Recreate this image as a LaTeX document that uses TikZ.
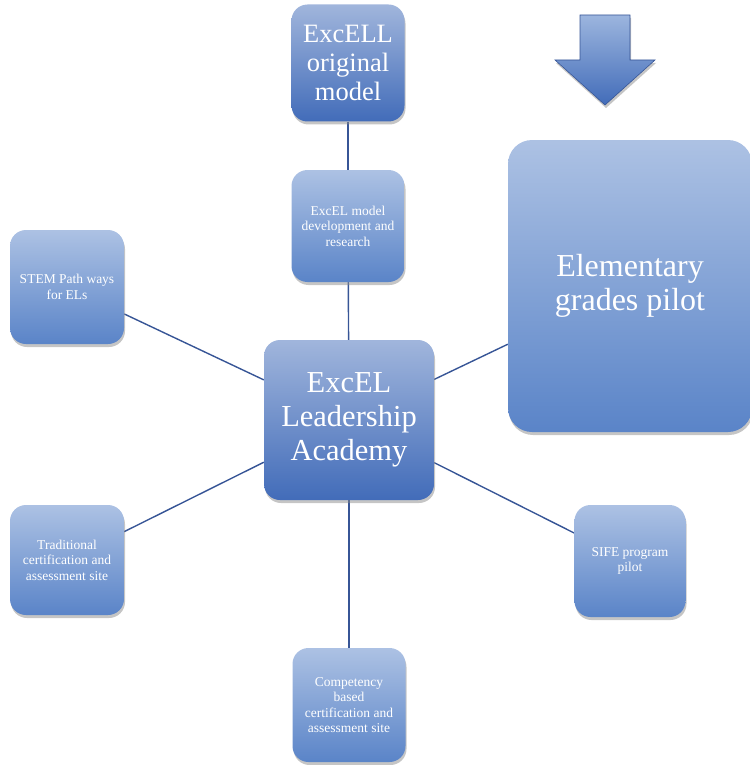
\documentclass[tikz,border=0pt]{standalone}
\usepackage{fontspec}
\setmainfont{Liberation Serif}
\usetikzlibrary{shadows,backgrounds}
\definecolor{linec}{RGB}{55,85,150}
\definecolor{boxblue}{RGB}{66,108,185}
\definecolor{lightblue}{RGB}{90,132,200}
\tikzset{
  box/.style={rounded corners=16pt, draw=none, text=white, align=center, inner sep=0pt,
    top color=#1!50!white, bottom color=#1, drop shadow={shadow xshift=1pt, shadow yshift=-3pt, fill=black!45, opacity=0.5}},
  box/.default={boxblue},
  conn/.style={draw=linec, line width=1.4pt},
}
\begin{document}
\begin{tikzpicture}[x=1pt,y=-1pt]
\useasboundingbox (0,0) rectangle (749,765);
\node[box, minimum width=113pt, minimum height=117pt, font=\fontsize{26.5}{29}\selectfont] (orig) at (348,63) {ExcELL\\original\\model};
\node[box=lightblue, minimum width=113pt, minimum height=112pt, font=\fontsize{13.5}{15.5}\selectfont] (dev) at (348,226) {ExcEL model\\development and\\research};
\node[box=lightblue, minimum width=114pt, minimum height=114pt, font=\fontsize{13.5}{15.5}\selectfont] (stem) at (67,287) {STEM Path ways\\for ELs};
\node[box, minimum width=170pt, minimum height=160pt, font=\fontsize{30.5}{34}\selectfont] (acad) at (349,420) {ExcEL\\Leadership\\Academy};
\node[box=lightblue, minimum width=244pt, minimum height=292pt, rounded corners=24pt, font=\fontsize{32}{34}\selectfont] (elem) at (630,286) {Elementary\\grades pilot};
\node[box=lightblue, minimum width=114pt, minimum height=110pt, font=\fontsize{13.5}{15.5}\selectfont] (trad) at (67,560) {Traditional\\certification and\\assessment site};
\node[box=lightblue, minimum width=113pt, minimum height=114pt, font=\fontsize{13.5}{15.5}\selectfont] (comp) at (349,705) {Competency\\based\\certification and\\assessment site};
\node[box=lightblue, minimum width=111pt, minimum height=112pt, font=\fontsize{13.5}{15.5}\selectfont] (sife) at (630,561) {SIFE program\\pilot};
\begin{scope}[on background layer]
\draw[conn] (orig) -- (dev);
\draw[conn] (dev) -- (acad);
\draw[conn] (acad) -- (stem);
\draw[conn] (acad) -- (trad);
\draw[conn] (acad) -- (comp);
\draw[conn] (acad) -- (sife);
\draw[conn] (acad) -- (elem);
\end{scope}
\path[top color=lightblue!60!white, bottom color=boxblue, draw=linec, line width=0.6pt,
  drop shadow={shadow xshift=1pt, shadow yshift=-3pt, fill=black!45, opacity=0.5}]
  (580,15) -- (630,15) -- (630,60) -- (655,60) -- (605,105) -- (555,60) -- (580,60) -- cycle;
\end{tikzpicture}
\end{document}
